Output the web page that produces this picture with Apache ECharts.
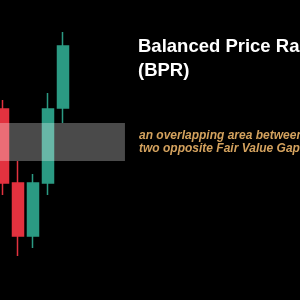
<!DOCTYPE html>
<html>
<head>
<meta charset="utf-8">
<script src="https://cdn.jsdelivr.net/npm/echarts@6/dist/echarts.min.js"></script>
<style>
  html, body { margin: 0; padding: 0; background: #000; }
  #chart { width: 300px; height: 300px; }
</style>
</head>
<body>
<div id="chart"></div>
<script>
// candle index along the time axis
const bars = [0, 1, 2, 3, 4];
const opens = [191, 117, 64, 117, 192];
const closes = [117, 64, 117, 191, 254];
const lows = [105, 44, 52, 105, 177];
const highs = [200, 139, 126, 207, 268];

// overlapping zone (price levels) and its time span
const bprLow = 139;
const bprHigh = 177;
const bprFrom = -0.2;
const bprTo = 8.13;

const titleText = 'Balanced Price Range\n(BPR)';
const noteText = 'an overlapping area between\ntwo opposite Fair Value Gaps';

const chart = echarts.init(document.getElementById('chart'));

const option = {
  backgroundColor: '#000000',
  animation: false,
  title: [
    {
      text: titleText,
      left: 138,
      top: 34.5,
      padding: 0,
      textStyle: {
        color: '#ffffff',
        fontFamily: 'Liberation Sans, Arial, sans-serif',
        fontWeight: 'bold',
        fontSize: 18.5,
        lineHeight: 24,
      },
    },
    {
      text: noteText,
      left: 139,
      top: 129,
      padding: 0,
      textStyle: {
        color: '#d4a25e',
        fontFamily: 'Liberation Sans, Arial, sans-serif',
        fontWeight: 'bold',
        fontStyle: 'italic',
        fontSize: 12,
        lineHeight: 13,
      },
    },
  ],
  grid: { left: 0, right: 0, top: 0, bottom: 0 },
  xAxis: {
    type: 'value',
    min: -0.2,
    max: 19.8,
    show: false,
  },
  yAxis: {
    type: 'value',
    min: 0,
    max: 300,
    show: false,
  },
  series: [
    {
      type: 'candlestick',
      barWidth: 12,
      encode: { x: 0, y: [1, 2, 3, 4] },
      data: bars.map((b, i) => [b, opens[i], closes[i], lows[i], highs[i]]),
      itemStyle: {
        color: '#2b9a83',
        color0: '#e2323f',
        borderColor: '#2b9a83',
        borderColor0: '#e2323f',
        borderWidth: 1.5,
      },
      markArea: {
        z: 10,
        silent: true,
        itemStyle: { color: 'rgba(255, 255, 255, 0.29)' },
        data: [[{ xAxis: bprFrom, yAxis: bprLow }, { xAxis: bprTo, yAxis: bprHigh }]],
      },
    },
  ],
};

chart.setOption(option);
</script>
</body>
</html>
